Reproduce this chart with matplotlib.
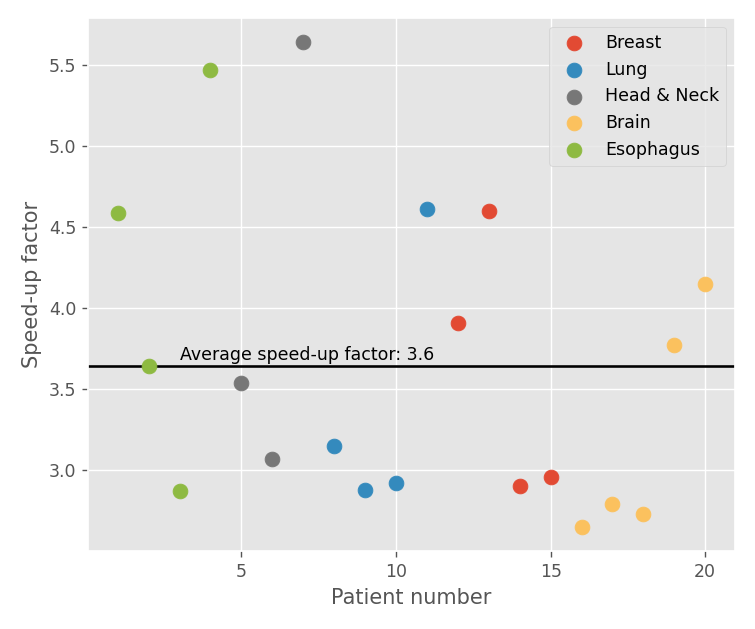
import numpy as np
import matplotlib.pyplot as plt

plt.style.use('ggplot')

cancers = ['Breast', 'Lung', 'Head & Neck', 'Brain', 'Esophagus']
patients = {
    'Esophagus': [1, 2, 3, 4],
    'Head & Neck': [5, 6, 7],
    'Lung': [8, 9, 10, 11],
    'Breast': [12, 13, 14, 15],
    'Brain': [16, 17, 18, 19, 20],
}
speedups = {
    'Esophagus': [4.59, 3.64, 2.87, 5.47],
    'Head & Neck': [3.54, 3.07, 5.64],
    'Lung': [3.15, 2.88, 2.92, 4.61],
    'Breast': [3.91, 4.60, 2.90, 2.96],
    'Brain': [2.65, 2.79, 2.73, 3.77, 4.15],
}
colors = {'Breast': '#E24A33', 'Lung': '#348ABD', 'Head & Neck': '#777777',
          'Brain': '#FBC15E', 'Esophagus': '#8EBA42'}

fig, ax = plt.subplots(figsize=(6.04, 5.032), dpi=125)
for c in cancers:
    ax.scatter(patients[c], speedups[c], s=72, color=colors[c], label=c, zorder=3)

avg = np.mean(np.concatenate([speedups[c] for c in cancers]))
ax.axhline(avg, color='black', lw=1.5, zorder=2)
ax.text(3, avg + 0.04, f'Average speed-up factor: {avg:.1f}')

ax.set_xticks([5, 10, 15, 20])
ax.set_xlabel('Patient number')
ax.set_ylabel('Speed-up factor')
ax.legend(loc='upper right', facecolor='#E5E5E5', edgecolor='#D0D0D0')
fig.subplots_adjust(left=0.117, right=0.973, top=0.971, bottom=0.124)
fig.savefig('out.png', dpi=125)
